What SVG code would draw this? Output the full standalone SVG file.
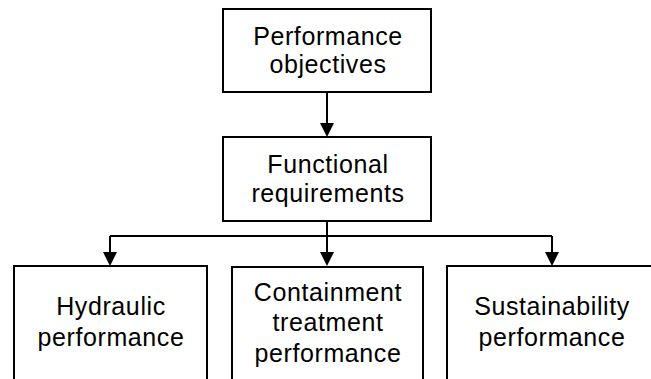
<svg xmlns="http://www.w3.org/2000/svg" width="651" height="379" viewBox="0 0 651 379">
<style>
.box{fill:#fff;stroke:#000;stroke-width:2}
.t{font-family:"Liberation Sans",Arial,sans-serif;font-size:25px;letter-spacing:0.6px;fill:#000;text-anchor:middle}
.c{fill:none;stroke:#000;stroke-width:2}
.ah{fill:#000}
</style>
<rect width="651" height="379" fill="#fff"/>
<g id="connectors">
<path class="c" d="M327,92 V124"/>
<path class="c" d="M327,221 V236"/>
<path class="c" d="M110,236 H552"/>
<path class="c" d="M110,236 V253"/>
<path class="c" d="M327,236 V253"/>
<path class="c" d="M552,236 V253"/>
<path class="ah" d="M320,123 L334,123 L327,137 Z"/>
<path class="ah" d="M103,252 L117,252 L110,266 Z"/>
<path class="ah" d="M320,252 L334,252 L327,266 Z"/>
<path class="ah" d="M545,252 L559,252 L552,266 Z"/>
</g>
<g id="performance-objectives">
<rect class="box" x="223" y="9" width="208" height="83"/>
<text class="t" x="328" y="45">Performance</text>
<text class="t" x="328" y="73">objectives</text>
</g>
<g id="functional-requirements">
<rect class="box" x="223" y="137" width="208" height="84"/>
<text class="t" x="328" y="173">Functional</text>
<text class="t" x="328" y="202">requirements</text>
</g>
<g id="hydraulic-performance">
<rect class="box" x="14" y="266" width="193" height="130"/>
<text class="t" x="111" y="315">Hydraulic</text>
<text class="t" x="111" y="346">performance</text>
</g>
<g id="containment-treatment-performance">
<rect class="box" x="232" y="267" width="191" height="130"/>
<text class="t" x="328" y="301">Containment</text>
<text class="t" x="328" y="331">treatment</text>
<text class="t" x="328" y="362">performance</text>
</g>
<g id="sustainability-performance">
<rect class="box" x="447" y="266" width="215" height="130"/>
<text class="t" x="552" y="315">Sustainability</text>
<text class="t" x="552" y="346">performance</text>
</g>
</svg>
